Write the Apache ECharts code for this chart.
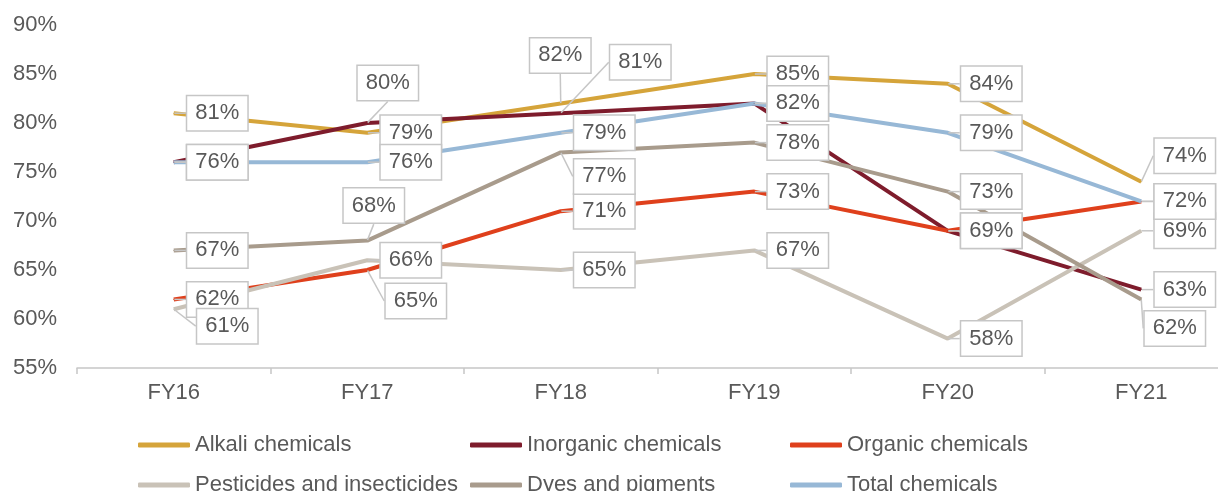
<!DOCTYPE html>
<html>
<head>
<meta charset="utf-8">
<script src="https://cdn.jsdelivr.net/npm/echarts@6/dist/echarts.min.js"></script>
<style>
  html, body { margin: 0; padding: 0; background: #fff; }
  #chart { width: 1218px; height: 491px; }
</style>
</head>
<body>
<div id="chart"></div>
<script>
// data (capacity utilisation, %)
const years = ['FY16', 'FY17', 'FY18', 'FY19', 'FY20', 'FY21'];
const alkali = [81, 79, 82, 85, 84, 74];
const inorganic = [76, 80, 81, 82, 69, 63];
const organic = [62, 65, 71, 73, 69, 72];
const pesticides = [61, 66, 65, 67, 58, 69];
const dyes = [67, 68, 77, 78, 73, 62];
const total = [76, 76, 79, 82, 79, 72];

const names = ['Alkali chemicals', 'Inorganic chemicals', 'Organic chemicals',
  'Pesticides and insecticides', 'Dyes and pigments', 'Total chemicals'];
const colors = ['#D5A43A', '#7E1C2C', '#DF401C', '#C9C2B7', '#A89B8C', '#97B8D6'];
const values = [alkali, inorganic, organic, pesticides, dyes, total];

// label nudges (series index -> data index -> [dx, dy])
const nudges = {
  0: { 2: [-44, -48], 5: [0, -26] },
  1: { 1: [-23, -40], 2: [36, -51] },
  2: { 1: [5, 31] },
  3: { 0: [10, 17] },
  4: { 1: [-37, -35], 2: [0, 24], 5: [-10, 29] }
};

const font = '"Liberation Sans", Arial, sans-serif';
const textColor = '#595959';

let myChart = echarts.init(document.getElementById('chart'));

let series = values.map((v, i) => ({
  name: names[i],
  type: 'line',
  data: v,
  symbol: 'circle',
  symbolSize: 1,
  color: colors[i],
  lineStyle: { width: 4, color: colors[i] },
  itemStyle: { color: colors[i] },
  label: {
    show: true,
    position: 'right',
    distance: 13,
    formatter: '{c}%',
    fontFamily: font,
    fontSize: 22,
    lineHeight: 22,
    color: textColor,
    backgroundColor: '#fff',
    borderColor: '#c6c6c6',
    borderWidth: 1.5,
    padding: [6, 8, 6, 8]
  },
  labelLine: {
    show: true,
    lineStyle: { color: '#c6c6c6', width: 1.5 }
  },
  labelLayout: function (p) {
    const n = nudges[p.seriesIndex] && nudges[p.seriesIndex][p.dataIndex];
    return n ? { dx: n[0], dy: n[1] } : {};
  },
  emphasis: { disabled: true },
  animation: false
}));

const legendBase = {
  orient: 'vertical',
  top: 434,
  height: 120,
  padding: 0,
  itemWidth: 52,
  itemHeight: 5,
  itemGap: 18,
  icon: 'roundRect',
  textStyle: { fontFamily: font, fontSize: 22, lineHeight: 22, color: textColor },
  selectedMode: false
};

let option = {
  backgroundColor: '#fff',
  animation: false,
  grid: { left: 77, top: 25, width: 1161, height: 343, outerBoundsMode: 'none', containLabel: false },
  legend: [
    Object.assign({}, legendBase, { left: 138, data: [names[0], names[3]] }),
    Object.assign({}, legendBase, { left: 470, data: [names[1], names[4]] }),
    Object.assign({}, legendBase, { left: 790, data: [names[2], names[5]] })
  ],
  xAxis: {
    type: 'category',
    data: years,
    boundaryGap: true,
    axisLine: { lineStyle: { color: '#c6c6c6', width: 1.5 } },
    axisTick: { show: true, length: 6, lineStyle: { color: '#c6c6c6', width: 1.5 } },
    axisLabel: { fontFamily: font, fontSize: 22, color: textColor, margin: 14 }
  },
  yAxis: {
    type: 'value',
    min: 55,
    max: 90,
    interval: 5,
    axisLine: { show: false },
    axisTick: { show: false },
    splitLine: { show: false },
    axisLabel: { formatter: '{value}%', fontFamily: font, fontSize: 22, color: textColor, margin: 20 }
  },
  series: series
};

myChart.setOption(option, true);
window.addEventListener('resize', () => {
  myChart.resize();
});
</script>
</body>
</html>
